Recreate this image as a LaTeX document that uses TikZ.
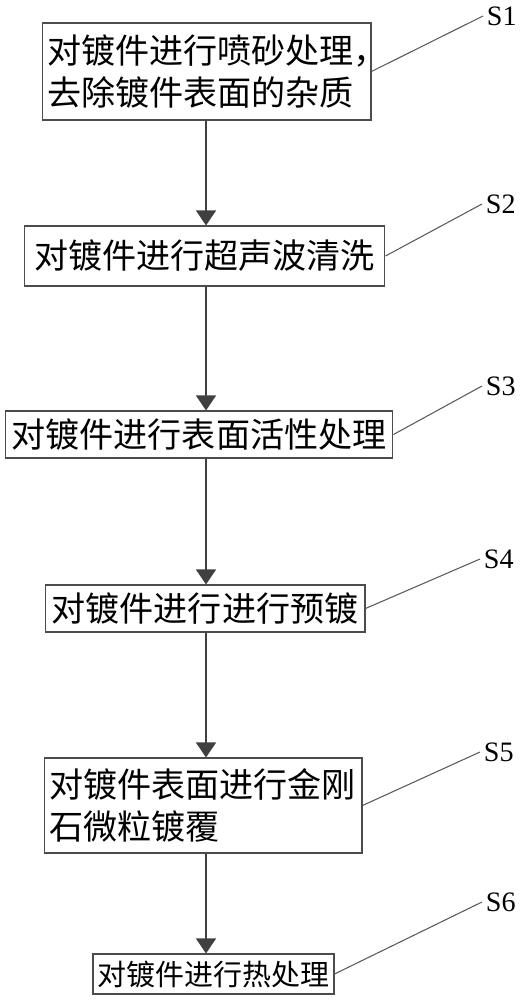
\documentclass[tikz,border=0pt]{standalone}
\usepackage{fontspec}
\setmainfont{Liberation Serif}
\newfontfamily\cjk{Noto Sans CJK SC}
\usepackage{tikz}
\usetikzlibrary{arrows.meta}

\begin{document}
\begin{tikzpicture}[
        x=0.02cm, y=-0.02cm,
        box/.style={draw=black!70, line width=0.6pt, inner xsep=0.1cm, inner ysep=0.05cm,
            font=\cjk\fontsize{19.4pt}{23.5pt}\selectfont},
        tag/.style={anchor=west, inner sep=2pt, font=\fontsize{16pt}{19pt}\selectfont},
        flow/.style={draw=black!75, line width=0.6pt, -{Triangle[width=0.4cm, length=0.3cm]}},
        lead/.style={draw=black!65, line width=0.6pt}
    ]
        \useasboundingbox (0,0) rectangle (523,1000);

        % Steps (placed at the centres of the boxes)
        \node[box, text width=6.38cm, align=left, minimum height=1.94cm] (B1) at (206.5,71.5)
            {对镀件进行喷砂处理，\\去除镀件表面的杂质};
        \node[box, minimum width=7.22cm, minimum height=1.2cm] (B2) at (204.5,256) {对镀件进行超声波清洗};
        \node[box, minimum width=7.76cm, minimum height=0.94cm] (B3) at (199,434.5) {对镀件进行表面活性处理};
        \node[box, minimum width=6.4cm, minimum height=0.94cm] (B4) at (205,608.5) {对镀件进行进行预镀};
        \node[box, text width=6.16cm, align=left, minimum height=1.9cm] (B5) at (203,805.5)
            {对镀件表面进行金刚\\石微粒镀覆};
        \node[box, inner xsep=0.05cm, minimum width=4.82cm, minimum height=0.8cm,
            font=\cjk\fontsize{16.5pt}{20pt}\selectfont] (B6) at (213.5,974) {对镀件进行热处理};

        % Step labels
        \node[tag] (S1) at (483,16) {S1};
        \node[tag] (S2) at (482,204) {S2};
        \node[tag] (S3) at (482,386) {S3};
        \node[tag] (S4) at (480,559) {S4};
        \node[tag] (S5) at (480,752) {S5};
        \node[tag] (S6) at (482,902) {S6};

        % Flow arrows along one axis
        \coordinate (axis) at (206,0);
        \foreach \a/\b in {B1/B2, B2/B3, B3/B4, B4/B5, B5/B6}
            \draw[flow] (\a.south -| axis) -- (\b.north -| axis);

        % Leader lines
        \foreach \i in {1,...,6}
            \draw[lead] (B\i.east) -- (S\i.west);
    \end{tikzpicture}
\end{document}
